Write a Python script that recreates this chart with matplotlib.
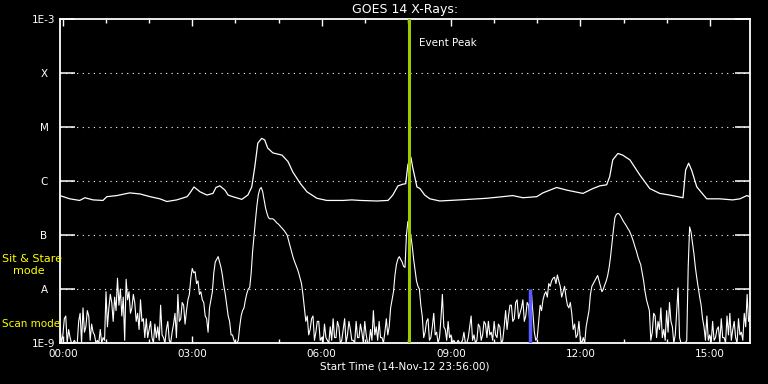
import matplotlib
matplotlib.use("Agg")
import matplotlib.pyplot as plt
from matplotlib.ticker import FixedLocator, FuncFormatter, NullLocator
import numpy as np

# ~~~ data ~~~~~~~~~~~~~~~~~~~~~~~~~~~~~~~~~~~~~~~~~~~~~~~~~~~~~~~~~~~~~~~~~ #
# long channel (1-8 A): hours after 00:00 UT, log10 of flux (W/m^2)
long_hours = [-0.07, 0.16, 0.39, 0.51, 0.70, 0.93, 1.02, 1.25, 1.55, 1.79,
              2.02, 2.25, 2.41, 2.64, 2.88, 2.94, 3.04, 3.18, 3.34, 3.48,
              3.55, 3.64, 3.76, 3.83, 3.94, 4.15, 4.29, 4.38, 4.45, 4.52,
              4.61, 4.68, 4.75, 4.87, 5.08, 5.22, 5.33, 5.50, 5.66, 5.89,
              6.12, 6.49, 6.70, 6.89, 7.28, 7.54, 7.65, 7.77, 7.88, 7.95,
              8.00, 8.07, 8.11, 8.21, 8.28, 8.39, 8.51, 8.74, 9.20, 9.83,
              10.20, 10.43, 10.67, 10.99, 11.13, 11.45, 11.69, 12.06, 12.29,
              12.45, 12.61, 12.68, 12.75, 12.87, 12.98, 13.15, 13.38, 13.61,
              13.84, 14.07, 14.38, 14.44, 14.51, 14.58, 14.70, 14.93, 15.23,
              15.53, 15.70, 15.86, 15.93]
long_logflux = [-6.27, -6.33, -6.36, -6.31, -6.35, -6.36, -6.29, -6.27, -6.22,
                -6.24, -6.29, -6.33, -6.38, -6.35, -6.29, -6.23, -6.11, -6.20,
                -6.26, -6.23, -6.12, -6.09, -6.17, -6.26, -6.29, -6.34, -6.26,
                -6.11, -5.74, -5.30, -5.21, -5.24, -5.39, -5.48, -5.52, -5.64,
                -5.83, -6.04, -6.20, -6.32, -6.36, -6.36, -6.35, -6.36, -6.37,
                -6.36, -6.26, -6.09, -6.06, -6.05, -5.70, -5.56, -5.74, -6.11,
                -6.14, -6.26, -6.33, -6.37, -6.35, -6.32, -6.29, -6.27, -6.31,
                -6.29, -6.22, -6.12, -6.17, -6.23, -6.14, -6.09, -6.07, -5.92,
                -5.61, -5.49, -5.52, -5.61, -5.89, -6.14, -6.23, -6.26, -6.31,
                -5.80, -5.67, -5.80, -6.11, -6.33, -6.33, -6.35, -6.33, -6.27,
                -6.29]

# short channel (0.5-4 A): one value every 2 minutes starting 23:56 UT,
# one row per hour
short_start = -4 / 60.0
short_step = 2 / 60.0
short_logflux = [
    -8.70, -9.00, -8.85, -8.55, -8.50, -9.00, -8.75, -8.90, -9.00, -9.00, -8.95, -9.00, -9.00, -8.60, -8.45,
    -9.00, -8.35, -8.80, -8.70, -8.40, -8.50, -8.95, -8.65, -8.80, -8.85, -9.00, -8.95, -9.00, -8.75, -9.00,
    -8.90, -8.95, -8.05, -8.70, -8.35, -8.10, -8.25, -8.60, -8.15, -8.40, -7.80, -8.30, -8.00, -8.50, -8.15,
    -8.95, -7.82, -8.20, -8.05, -8.45, -8.35, -8.10, -8.25, -8.60, -8.45, -8.75, -8.20, -8.60, -8.55, -8.90,
    -8.55, -8.90, -8.75, -8.60, -8.90, -9.00, -8.65, -8.90, -8.70, -8.95, -8.30, -8.85, -8.90, -9.00, -8.75,
    -8.60, -8.95, -9.00, -8.80, -8.65, -8.45, -8.90, -8.10, -8.60, -8.55, -8.25, -8.30, -8.65, -8.40, -8.20,
    -8.10, -7.80, -7.62, -7.70, -7.68, -7.90, -7.85, -8.10, -8.05, -8.20, -8.25, -8.50, -8.55, -8.80, -8.35,
    -8.20, -8.05, -7.70, -7.50, -7.45, -7.40, -7.50, -7.60, -7.75, -7.95, -8.10, -8.30, -8.50, -8.60, -8.85,
    -8.85, -8.95, -9.00, -9.00, -8.95, -8.70, -8.50, -8.40, -8.35, -8.20, -8.08, -8.00, -7.97, -7.70, -7.30,
    -7.00, -6.72, -6.45, -6.25, -6.15, -6.12, -6.20, -6.35, -6.50, -6.60, -6.68, -6.70, -6.70, -6.70, -6.72,
    -6.75, -6.78, -6.80, -6.83, -6.86, -6.89, -6.92, -6.96, -7.00, -7.10, -7.20, -7.30, -7.40, -7.48, -7.55,
    -7.62, -7.70, -7.80, -7.90, -8.10, -8.35, -8.60, -8.50, -8.85, -8.75, -8.55, -8.50, -8.95, -8.80, -8.60,
    -8.60, -8.95, -8.90, -9.00, -8.65, -8.90, -8.95, -9.00, -8.70, -8.95, -8.55, -8.90, -8.90, -8.60, -8.70,
    -9.00, -8.95, -8.75, -8.55, -9.00, -8.85, -8.60, -8.75, -8.95, -8.95, -9.00, -8.60, -8.90, -8.90, -8.65,
    -8.80, -9.00, -8.60, -8.85, -9.00, -9.00, -8.75, -8.95, -8.40, -8.85, -8.70, -8.95, -8.60, -8.90, -8.90,
    -9.00, -8.80, -8.55, -8.85, -8.70, -8.35, -8.20, -8.05, -7.75, -7.55, -7.45, -7.40, -7.45, -7.50, -7.58,
    -7.60, -7.00, -6.75, -6.80, -7.00, -7.20, -7.45, -7.65, -7.85, -7.95, -8.00, -8.30, -8.50, -8.90, -8.80,
    -8.60, -8.55, -8.95, -8.90, -8.70, -8.45, -8.85, -8.80, -9.00, -8.90, -8.55, -8.10, -8.70, -8.75, -8.95,
    -8.60, -8.90, -8.85, -9.00, -8.95, -9.00, -9.00, -8.95, -9.00, -9.00, -8.95, -8.80, -9.00, -9.00, -8.90,
    -8.70, -8.50, -8.95, -8.85, -9.00, -8.95, -8.65, -8.70, -8.95, -8.85, -8.60, -8.65, -8.90, -8.60, -8.85,
    -8.80, -8.95, -8.60, -8.85, -8.90, -8.65, -8.70, -9.00, -8.95, -8.70, -8.40, -8.75, -8.50, -8.30, -8.30,
    -8.60, -8.55, -8.25, -8.20, -8.55, -8.45, -8.35, -8.20, -8.60, -8.50, -8.25, -8.30, -8.70, -8.10, -8.45,
    -8.80, -8.95, -8.90, -8.60, -8.30, -8.40, -8.20, -8.10, -8.05, -8.15, -7.90, -7.95, -7.85, -7.80, -7.78,
    -7.90, -7.74, -7.85, -7.95, -8.15, -8.05, -7.95, -8.15, -8.30, -8.35, -8.25, -8.45, -8.75, -8.65, -8.90,
    -8.85, -8.60, -8.95, -9.00, -8.90, -9.00, -8.70, -8.55, -8.40, -8.10, -7.95, -7.90, -7.85, -7.80, -7.75,
    -7.85, -7.95, -8.05, -8.00, -7.92, -7.85, -7.75, -7.60, -7.40, -7.15, -6.90, -6.68, -6.62, -6.60, -6.61,
    -6.65, -6.70, -6.75, -6.79, -6.83, -6.88, -6.92, -6.98, -7.05, -7.13, -7.22, -7.30, -7.40, -7.48, -7.55,
    -7.70, -7.85, -8.05, -8.20, -8.30, -8.40, -8.95, -8.80, -8.45, -8.50, -8.90, -8.60, -8.75, -8.35, -8.90,
    -8.75, -8.95, -8.40, -8.80, -8.25, -8.60, -8.70, -9.00, -8.85, -8.40, -7.98, -8.90, -9.00, -9.00, -9.00,
    -9.00, -8.95, -7.60, -6.85, -6.95, -7.15, -7.35, -7.60, -7.80, -7.98, -8.15, -8.30, -8.55, -8.70, -8.95,
    -8.50, -8.95, -8.85, -9.00, -8.60, -8.95, -8.90, -8.75, -8.70, -9.00, -8.55, -8.90, -8.90, -9.00, -8.50,
    -8.85, -8.45, -8.95, -8.75, -8.60, -8.90, -9.00, -8.55, -8.85, -8.80, -8.95, -8.45, -8.70, -8.10, -8.60,
    -8.50]

flare_levels = [1e-9, 1e-8, 1e-7, 1e-6, 1e-5, 1e-4, 1e-3]
flare_labels = ['1E-9', 'A', 'B', 'C', 'M', 'X', '1E-3']
hour_ticks = [0, 3, 6, 9, 12, 15]

event_peak_hour = 8.02
scan_mode_hour = 10.83
scan_mode_top = 1e-8

window_start = -4 / 60.0
window_end = 15 + 56 / 60.0


def main():
    plt.rcParams['font.family'] = ['DejaVu Sans']
    fig = plt.figure(figsize=(7.68, 3.84), dpi=100, facecolor='black')
    ax = fig.add_axes([60 / 768, 41 / 384, 690 / 768, 324 / 384])
    ax.set_facecolor('black')

    # curves
    short_hours = short_start + short_step * np.arange(len(short_logflux))
    ax.plot(long_hours, 10 ** np.array(long_logflux), color='white', lw=0.9)
    ax.plot(short_hours, 10 ** np.array(short_logflux), color='white', lw=0.8)

    # markers for event peak and scan mode
    ax.axvline(event_peak_hour, color='#9ccc00', lw=2.2, zorder=5)
    ax.vlines(scan_mode_hour, flare_levels[0], scan_mode_top,
              color='#5a5aff', lw=2.5, zorder=5)
    ax.text(event_peak_hour + 0.23, 0.926, 'Event Peak', color='white',
            fontsize=7.5, va='center', ha='left',
            transform=ax.get_xaxis_transform())

    # axes
    ax.set_yscale('log')
    ax.set_ylim(flare_levels[0], flare_levels[-1])
    ax.set_xlim(window_start, window_end)
    ax.yaxis.set_major_locator(FixedLocator(flare_levels))
    ax.yaxis.set_minor_locator(NullLocator())
    ax.set_yticklabels(flare_labels)
    ax.xaxis.set_major_locator(FixedLocator(hour_ticks))
    ax.xaxis.set_minor_locator(FixedLocator(range(0, 16)))
    ax.xaxis.set_major_formatter(FuncFormatter(lambda h, p: '%02d:00' % h))

    for sp in ax.spines.values():
        sp.set_color('white')
        sp.set_linewidth(1.3)
    ax.tick_params(axis='y', which='major', direction='in', length=10.5,
                   width=1.1, color='white', labelcolor='white',
                   labelsize=7.5, left=True, right=True, pad=11.5)
    ax.tick_params(axis='x', which='major', direction='in', length=5,
                   width=1.0, color='white', labelcolor='white',
                   labelsize=7.5, top=True, bottom=True, pad=4)
    ax.tick_params(axis='x', which='minor', direction='in', length=3,
                   width=1.0, color='white', top=True, bottom=True)
    for lab in ax.get_yticklabels():
        lab.set_horizontalalignment('center')

    # dotted grid between levels
    for lev in flare_levels[1:-1]:
        ax.axhline(lev, color='white', lw=0.8, ls=(0, (1, 4)), zorder=1)

    ax.set_title('GOES 14 X-Rays:', color='white', fontsize=9, pad=4)
    ax.set_xlabel('Start Time (14-Nov-12 23:56:00)', color='white',
                  fontsize=7.5, labelpad=2)

    # mode labels on the left
    fig.text(2 / 768, 1 - 259 / 384, 'Sit & Stare', color='yellow',
             fontsize=8, va='center', ha='left')
    fig.text(13 / 768, 1 - 271 / 384, 'mode', color='yellow',
             fontsize=8, va='center', ha='left')
    fig.text(2 / 768, 1 - 324 / 384, 'Scan mode', color='yellow',
             fontsize=7.5, va='center', ha='left')

    fig.savefig('out.png', dpi=100, facecolor='black')


if __name__ == '__main__':
    main()
